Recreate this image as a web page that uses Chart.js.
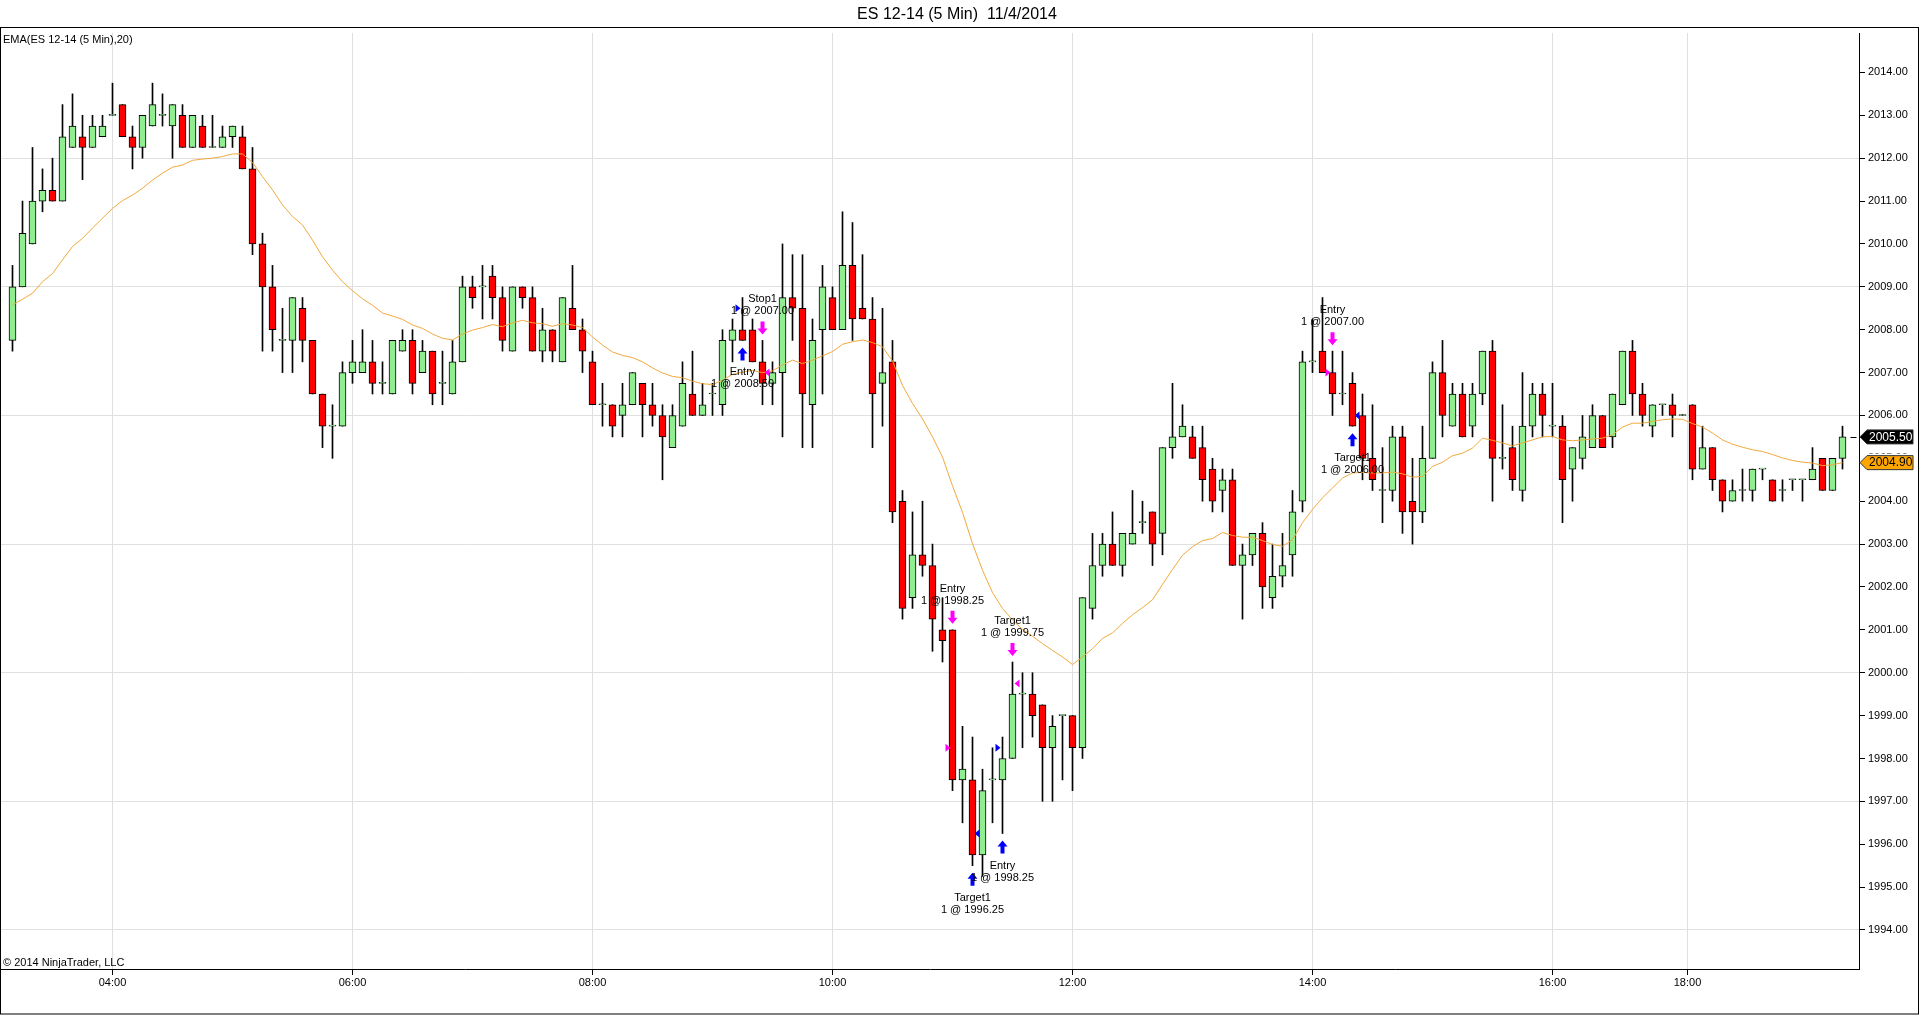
<!DOCTYPE html>
<html>
<head>
<meta charset="utf-8">
<title>ES 12-14 (5 Min) 11/4/2014</title>
<script src="https://cdn.jsdelivr.net/npm/chart.js@4.4.1/dist/chart.umd.min.js"></script>
<style>
    html, body { margin: 0; padding: 0; background: #ffffff; }
    canvas { display: block; }
</style>
</head>
<body>
<canvas id="esChart" width="1920" height="1015"></canvas>
<script>
// Bar data (5 min bars, 03:10 -> 19:20)
const opens = [
    2007.75, 2009.0, 2010.0, 2011.0, 2011.25, 2011.0, 2012.25, 2012.5, 2012.25, 2012.5,
    2013.0, 2013.25, 2012.5, 2012.25, 2012.75, 2013.0, 2012.75, 2013.0, 2012.25, 2012.75,
    2012.25, 2012.25, 2012.5, 2012.5, 2011.75, 2010.0, 2009.0, 2007.75, 2007.75, 2008.5,
    2007.75, 2006.5, 2005.75, 2005.75, 2007.0, 2007.0, 2007.25, 2006.75, 2006.5, 2007.5,
    2007.75, 2007.0, 2007.5, 2006.75, 2006.5, 2007.25, 2009.0, 2009.0, 2009.25, 2008.75,
    2007.5, 2009.0, 2008.75, 2007.5, 2008.0, 2007.25, 2008.5, 2008.0, 2007.25, 2006.25,
    2006.25, 2006.0, 2006.25, 2006.75, 2006.25, 2006.0, 2005.25, 2005.75, 2006.5, 2006.0,
    2006.5, 2006.25, 2007.75, 2008.0, 2008.0, 2007.25, 2006.75, 2007.0, 2008.75, 2008.5,
    2006.25, 2008.0, 2008.75, 2008.0, 2009.5, 2008.5, 2008.25, 2006.75, 2007.25, 2004.0,
    2001.75, 2002.75, 2002.5, 2001.0, 2001.0, 1997.5, 1997.5, 1995.75, 1997.5, 1997.5,
    1998.0, 1999.5, 1999.5, 1999.25, 1998.25, 1999.0, 1999.0, 1998.25, 2001.5, 2002.5,
    2003.0, 2002.5, 2003.0, 2003.5, 2003.75, 2003.25, 2005.25, 2005.5, 2005.5, 2005.25,
    2004.75, 2004.25, 2004.5, 2002.5, 2002.75, 2003.25, 2001.75, 2002.25, 2002.75, 2004.0,
    2007.25, 2007.5, 2007.0, 2006.5, 2006.75, 2006.0, 2005.0, 2004.25, 2004.25, 2005.5,
    2004.0, 2003.75, 2005.0, 2007.0, 2005.75, 2006.5, 2005.75, 2006.5, 2007.5, 2005.0,
    2005.25, 2004.25, 2005.75, 2006.5, 2005.75, 2005.75, 2004.75, 2005.0, 2005.25, 2006.0,
    2005.5, 2006.25, 2007.5, 2006.5, 2005.75, 2006.25, 2006.25, 2006.0, 2006.25, 2004.75,
    2005.25, 2004.5, 2004.0, 2004.25, 2004.25, 2004.75, 2004.5, 2004.25, 2004.5, 2004.5,
    2004.5, 2005.0, 2004.25, 2005.0
];
const highs = [
    2009.5, 2011.0, 2012.25, 2011.75, 2012.0, 2013.25, 2013.5, 2013.0, 2013.0, 2013.0,
    2013.75, 2013.25, 2012.75, 2013.0, 2013.75, 2013.5, 2013.25, 2013.25, 2013.0, 2013.0,
    2013.0, 2012.75, 2012.75, 2012.75, 2012.25, 2010.25, 2009.5, 2008.5, 2008.75, 2008.75,
    2007.75, 2006.5, 2006.25, 2007.25, 2007.75, 2008.0, 2007.75, 2007.25, 2007.75, 2008.0,
    2008.0, 2007.75, 2007.5, 2007.5, 2007.75, 2009.25, 2009.25, 2009.5, 2009.5, 2009.0,
    2009.0, 2009.0, 2009.0, 2008.5, 2008.0, 2008.75, 2009.5, 2008.25, 2007.5, 2006.75,
    2006.25, 2006.75, 2007.0, 2006.75, 2006.75, 2006.25, 2006.25, 2007.25, 2007.5, 2006.75,
    2006.75, 2008.0, 2008.25, 2008.75, 2008.25, 2007.75, 2007.25, 2010.0, 2009.75, 2009.75,
    2008.25, 2009.5, 2009.0, 2010.75, 2010.5, 2009.75, 2008.75, 2008.5, 2007.75, 2004.25,
    2003.75, 2004.0, 2003.0, 2001.75, 2001.0, 1998.75, 1998.5, 1997.75, 1998.25, 1998.5,
    2000.25, 2000.0, 2000.0, 1999.25, 1999.0, 1999.0, 1999.0, 2001.75, 2003.25, 2003.25,
    2003.75, 2003.25, 2004.25, 2004.0, 2003.75, 2005.25, 2006.75, 2006.25, 2005.75, 2005.75,
    2005.0, 2004.75, 2004.75, 2003.0, 2003.25, 2003.5, 2003.0, 2003.25, 2004.25, 2007.5,
    2008.25, 2008.75, 2007.5, 2007.5, 2007.0, 2006.5, 2006.25, 2005.25, 2005.75, 2005.75,
    2005.0, 2005.75, 2007.25, 2007.75, 2006.75, 2006.75, 2006.75, 2007.5, 2007.75, 2006.25,
    2005.75, 2007.0, 2006.75, 2006.75, 2006.75, 2006.0, 2005.25, 2006.0, 2006.25, 2006.0,
    2006.5, 2007.5, 2007.75, 2006.75, 2006.25, 2006.25, 2006.5, 2006.0, 2006.25, 2005.75,
    2005.25, 2004.5, 2004.5, 2004.75, 2004.75, 2004.75, 2004.5, 2004.5, 2004.5, 2004.5,
    2005.25, 2005.0, 2005.0, 2005.75
];
const lows = [
    2007.5, 2009.0, 2010.0, 2010.75, 2011.0, 2011.0, 2012.25, 2011.5, 2012.25, 2012.5,
    2013.0, 2012.5, 2011.75, 2012.0, 2012.75, 2012.75, 2012.0, 2012.25, 2012.25, 2012.25,
    2012.25, 2012.25, 2012.25, 2011.75, 2009.75, 2007.5, 2007.5, 2007.0, 2007.0, 2007.25,
    2006.5, 2005.25, 2005.0, 2005.75, 2006.75, 2007.0, 2006.5, 2006.5, 2006.5, 2007.5,
    2006.5, 2007.0, 2006.25, 2006.25, 2006.5, 2007.25, 2008.5, 2008.25, 2008.25, 2007.5,
    2007.5, 2008.5, 2007.5, 2007.25, 2007.25, 2007.25, 2008.0, 2007.0, 2006.25, 2005.75,
    2005.5, 2005.5, 2006.25, 2005.5, 2005.75, 2004.5, 2005.25, 2005.75, 2006.0, 2006.0,
    2006.0, 2006.0, 2007.25, 2007.75, 2007.25, 2006.25, 2006.25, 2005.5, 2007.75, 2005.25,
    2005.25, 2006.5, 2008.0, 2008.0, 2007.75, 2008.25, 2005.25, 2005.75, 2003.5, 2001.25,
    2001.5, 2002.25, 2000.5, 2000.25, 1997.25, 1996.5, 1995.5, 1995.25, 1996.5, 1996.25,
    1998.0, 1998.25, 1998.5, 1997.0, 1997.0, 1997.5, 1997.25, 1998.0, 2001.25, 2002.25,
    2002.5, 2002.25, 2003.0, 2003.25, 2002.5, 2002.75, 2005.0, 2005.5, 2005.0, 2004.0,
    2003.75, 2003.75, 2002.5, 2001.25, 2002.5, 2001.5, 2001.5, 2002.0, 2002.25, 2003.75,
    2007.0, 2007.0, 2006.0, 2006.25, 2005.75, 2004.5, 2004.25, 2003.5, 2004.0, 2003.25,
    2003.0, 2003.5, 2005.0, 2005.5, 2005.75, 2005.5, 2005.5, 2006.25, 2004.0, 2004.75,
    2004.25, 2004.0, 2005.5, 2005.5, 2005.5, 2003.5, 2004.0, 2004.75, 2005.25, 2005.25,
    2005.25, 2006.25, 2006.0, 2005.75, 2005.5, 2006.0, 2005.5, 2006.0, 2004.5, 2004.75,
    2004.25, 2003.75, 2004.0, 2004.0, 2004.0, 2004.5, 2004.0, 2004.0, 2004.25, 2004.0,
    2004.5, 2004.25, 2004.25, 2004.75
];
const closes = [
    2009.0, 2010.25, 2011.0, 2011.25, 2011.0, 2012.5, 2012.75, 2012.25, 2012.75, 2012.75,
    2013.0, 2012.5, 2012.25, 2013.0, 2013.25, 2013.0, 2013.25, 2012.25, 2013.0, 2012.25,
    2012.25, 2012.5, 2012.75, 2011.75, 2010.0, 2009.0, 2008.0, 2007.75, 2008.75, 2007.75,
    2006.5, 2005.75, 2005.75, 2007.0, 2007.25, 2007.25, 2006.75, 2006.75, 2007.75, 2007.75,
    2006.75, 2007.5, 2006.5, 2006.75, 2007.25, 2009.0, 2008.75, 2009.0, 2008.75, 2007.75,
    2009.0, 2008.75, 2007.5, 2008.0, 2007.5, 2008.75, 2008.0, 2007.5, 2006.25, 2006.25,
    2005.75, 2006.25, 2007.0, 2006.25, 2006.0, 2005.5, 2006.0, 2006.75, 2006.0, 2006.25,
    2006.5, 2007.75, 2008.0, 2007.75, 2007.25, 2006.75, 2007.0, 2008.75, 2008.5, 2006.5,
    2007.75, 2009.0, 2008.0, 2009.5, 2008.25, 2008.25, 2006.5, 2007.0, 2003.75, 2001.5,
    2002.75, 2002.5, 2001.25, 2000.75, 1997.5, 1997.75, 1995.75, 1997.25, 1997.5, 1998.0,
    1999.5, 1999.5, 1999.0, 1998.25, 1998.75, 1999.0, 1998.25, 2001.75, 2002.5, 2003.0,
    2002.5, 2003.25, 2003.25, 2003.5, 2003.0, 2005.25, 2005.5, 2005.75, 2005.0, 2004.5,
    2004.0, 2004.5, 2002.5, 2002.75, 2003.25, 2002.0, 2002.25, 2002.5, 2003.75, 2007.25,
    2007.25, 2007.0, 2006.5, 2006.5, 2005.75, 2005.0, 2004.5, 2004.25, 2005.5, 2003.75,
    2003.75, 2005.0, 2007.0, 2006.0, 2006.5, 2005.5, 2006.5, 2007.5, 2005.0, 2005.0,
    2004.5, 2005.75, 2006.5, 2006.0, 2005.75, 2004.5, 2005.25, 2005.5, 2006.0, 2005.25,
    2006.5, 2007.5, 2006.5, 2006.0, 2006.25, 2006.25, 2006.0, 2006.0, 2004.75, 2005.25,
    2004.5, 2004.0, 2004.25, 2004.25, 2004.75, 2004.75, 2004.0, 2004.25, 2004.5, 2004.5,
    2004.75, 2004.25, 2005.0, 2005.5
];
// EMA(20) as drawn on the chart
const emaValues = [
    2008.58, 2008.71, 2008.85, 2009.12, 2009.31, 2009.63, 2009.94, 2010.13, 2010.37, 2010.60,
    2010.83, 2011.01, 2011.14, 2011.30, 2011.49, 2011.65, 2011.79, 2011.84, 2011.95, 2011.98,
    2012.00, 2012.04, 2012.10, 2012.10, 2011.90, 2011.57, 2011.26, 2010.91, 2010.64, 2010.44,
    2010.09, 2009.70, 2009.39, 2009.12, 2008.91, 2008.72, 2008.57, 2008.39, 2008.32, 2008.24,
    2008.11, 2008.03, 2007.90, 2007.80, 2007.76, 2007.90, 2007.99, 2008.05, 2008.12, 2008.07,
    2008.16, 2008.22, 2008.16, 2008.14, 2008.08, 2008.14, 2008.11, 2008.05, 2007.83, 2007.64,
    2007.48, 2007.40, 2007.35, 2007.25, 2007.11, 2006.99, 2006.91, 2006.88, 2006.80, 2006.74,
    2006.72, 2006.82, 2006.96, 2007.01, 2007.05, 2007.00, 2007.04, 2007.18, 2007.29, 2007.21,
    2007.29, 2007.39, 2007.49, 2007.66, 2007.72, 2007.76, 2007.70, 2007.60, 2007.27, 2006.70,
    2006.28, 2005.92, 2005.50, 2005.03, 2004.36, 2003.74, 2003.01, 2002.39, 2001.87, 2001.50,
    2001.23, 2001.01, 2000.85, 2000.68, 2000.52, 2000.37, 2000.19, 2000.37, 2000.56, 2000.80,
    2000.93, 2001.15, 2001.35, 2001.52, 2001.70, 2002.06, 2002.41, 2002.74, 2002.94, 2003.08,
    2003.13, 2003.27, 2003.20, 2003.16, 2003.16, 2003.08, 2002.99, 2002.95, 2003.10, 2003.50,
    2003.81, 2004.08, 2004.31, 2004.54, 2004.66, 2004.67, 2004.66, 2004.66, 2004.68, 2004.64,
    2004.56, 2004.58, 2004.81, 2004.91, 2005.06, 2005.12, 2005.24, 2005.47, 2005.42, 2005.36,
    2005.29, 2005.36, 2005.43, 2005.50, 2005.51, 2005.43, 2005.41, 2005.43, 2005.45, 2005.47,
    2005.55, 2005.73, 2005.82, 2005.82, 2005.86, 2005.90, 2005.92, 2005.91, 2005.81, 2005.73,
    2005.59, 2005.43, 2005.33, 2005.26, 2005.20, 2005.16, 2005.09, 2005.01, 2004.95, 2004.91,
    2004.89, 2004.83, 2004.85, 2004.90
];

// time axis: bar positions of the hour marks (18:00 falls in the session break)
const timeTickBars = [10, 34, 58, 82, 106, 130, 154, 167.5];
const timeTickLabels = ['04:00', '06:00', '08:00', '10:00', '12:00', '14:00', '16:00', '18:00'];
const priceTicks = [1994, 1995, 1996, 1997, 1998, 1999, 2000, 2001, 2002, 2003, 2004,
    2005, 2006, 2007, 2008, 2009, 2010, 2011, 2012, 2013, 2014];

// executions
const tradeBars = [73, 75, 94, 96, 99, 100, 132, 134];
const tradePrices = [2008.50, 2007.00, 1998.25, 1996.25, 1998.25, 1999.75, 2007.00, 2006.00];
const tradeSides = ['buy', 'sell', 'sell', 'buy', 'buy', 'sell', 'sell', 'buy'];
const tradeNames = ['Entry', 'Stop1', 'Entry', 'Target1', 'Entry', 'Target1', 'Entry', 'Target1'];

const FONT = 'Arial, "Liberation Sans", sans-serif';
const GREEN = '#90EE90';
const RED = '#FF0000';
const EMA_COLOR = '#F2A93B';

const wickData = highs.map((h, i) => ({ x: i, y: [lows[i], h] }));
const bodyData = opens.map((o, i) => ({ x: i, y: [o, closes[i]] }));
const bodyColors = opens.map((o, i) => closes[i] >= o ? GREEN : RED);
const emaData = emaValues.map((v, i) => ({ x: i, y: v }));

// arrows, execution triangles, labels, frame and price tags
const ninjaPlugin = {
    id: 'ninjaDecor',
    beforeDraw(chart) {
        const ctx = chart.ctx;
        ctx.save();
        ctx.fillStyle = '#ffffff';
        ctx.fillRect(0, 0, chart.width, chart.height);
        ctx.restore();
    },
    afterDraw(chart) {
        const ctx = chart.ctx;
        const xs = chart.scales.x;
        const ys = chart.scales.y;
        const area = chart.chartArea;
        ctx.save();

        // frame
        ctx.strokeStyle = '#000';
        ctx.lineWidth = 1;
        ctx.strokeRect(0.5, 27.5, chart.width - 2, chart.height - 28.5);

        // title
        ctx.fillStyle = '#000';
        ctx.font = '16px ' + FONT;
        ctx.textAlign = 'center';
        ctx.textBaseline = 'middle';
        ctx.fillText('ES 12-14 (5 Min)  11/4/2014', 957, 15);

        ctx.font = '11px ' + FONT;
        ctx.textAlign = 'left';
        ctx.fillText('EMA(ES 12-14 (5 Min),20)', 3, 40);
        ctx.fillText('\u00A9 2014 NinjaTrader, LLC', 3, area.bottom - 6);

        // executions
        tradeBars.forEach((b, k) => {
            const cx = xs.getPixelForValue(b);
            const buy = tradeSides[k] === 'buy';
            const entry = tradeNames[k] === 'Entry';
            const col = buy ? '#0000FF' : '#FF00FF';
            const py = ys.getPixelForValue(tradePrices[k]);

            // small triangle at the fill price
            ctx.fillStyle = col;
            ctx.beginPath();
            if (entry) {
                ctx.moveTo(cx - 7, py - 4);
                ctx.lineTo(cx - 2, py);
                ctx.lineTo(cx - 7, py + 4);
            } else {
                ctx.moveTo(cx + 7, py - 4);
                ctx.lineTo(cx + 2, py);
                ctx.lineTo(cx + 7, py + 4);
            }
            ctx.closePath();
            ctx.fill();

            // big arrow
            let top, bottom;
            if (buy) {
                top = ys.getPixelForValue(lows[b]) + 7;
                bottom = top + 13;
                ctx.beginPath();
                ctx.moveTo(cx, top);
                ctx.lineTo(cx + 5, top + 6);
                ctx.lineTo(cx + 2, top + 6);
                ctx.lineTo(cx + 2, bottom);
                ctx.lineTo(cx - 2, bottom);
                ctx.lineTo(cx - 2, top + 6);
                ctx.lineTo(cx - 5, top + 6);
                ctx.closePath();
                ctx.fill();
            } else {
                bottom = ys.getPixelForValue(highs[b]) - 6;
                top = bottom - 13;
                ctx.beginPath();
                ctx.moveTo(cx, bottom);
                ctx.lineTo(cx + 5, bottom - 6);
                ctx.lineTo(cx + 2, bottom - 6);
                ctx.lineTo(cx + 2, top);
                ctx.lineTo(cx - 2, top);
                ctx.lineTo(cx - 2, bottom - 6);
                ctx.lineTo(cx - 5, bottom - 6);
                ctx.closePath();
                ctx.fill();
            }

            // label
            ctx.fillStyle = '#000';
            ctx.font = '11px ' + FONT;
            ctx.textAlign = 'center';
            ctx.textBaseline = 'middle';
            const line2 = '1 @ ' + tradePrices[k].toFixed(2);
            if (buy) {
                ctx.fillText(tradeNames[k], cx, bottom + 12);
                ctx.fillText(line2, cx, bottom + 24);
            } else {
                ctx.fillText(tradeNames[k], cx, top - 22);
                ctx.fillText(line2, cx, top - 10);
            }
        });

        // last price dash and axis tags
        const last = closes.length - 1;
        const lx = xs.getPixelForValue(last);
        const lastY = Math.round(ys.getPixelForValue(closes[last])) + 0.5;
        ctx.strokeStyle = '#000';
        ctx.beginPath();
        ctx.moveTo(lx + 8, lastY);
        ctx.lineTo(lx + 14, lastY);
        ctx.stroke();

        const drawTag = (value, fill, textCol) => {
            const y = ys.getPixelForValue(value);
            const x0 = area.right + 1;
            // hide the axis label the tag sits on
            ctx.fillStyle = '#ffffff';
            ctx.fillRect(x0, y - 9, chart.width - x0 - 2, 18);
            ctx.beginPath();
            ctx.moveTo(x0, y);
            ctx.lineTo(x0 + 7, y - 7);
            ctx.lineTo(x0 + 53, y - 7);
            ctx.lineTo(x0 + 53, y + 7);
            ctx.lineTo(x0 + 7, y + 7);
            ctx.closePath();
            ctx.fillStyle = fill;
            ctx.fill();
            ctx.strokeStyle = '#333';
            ctx.stroke();
            ctx.fillStyle = textCol;
            ctx.font = '12px ' + FONT;
            ctx.textAlign = 'left';
            ctx.textBaseline = 'middle';
            ctx.fillText(value.toFixed(2), x0 + 9, y + 0.5);
        };
        drawTag(closes[last], '#000000', '#ffffff');
        drawTag(emaValues[last], '#FFA500', '#000000');

        ctx.restore();
    }
};

const ctx = document.getElementById('esChart').getContext('2d');
new Chart(ctx, {
    type: 'bar',
    data: {
        datasets: [
            {
                type: 'line',
                label: 'EMA',
                data: emaData,
                borderColor: EMA_COLOR,
                borderWidth: 1,
                pointRadius: 0,
                tension: 0,
                order: 0
            },
            {
                label: 'Body',
                data: bodyData,
                backgroundColor: bodyColors,
                borderColor: '#000000',
                borderWidth: 1,
                borderSkipped: false,
                barThickness: 7,
                minBarLength: 1,
                grouped: false,
                order: 1
            },
            {
                label: 'Wick',
                data: wickData,
                backgroundColor: '#000000',
                borderWidth: 0,
                barThickness: 1,
                minBarLength: 1,
                grouped: false,
                order: 2
            }
        ]
    },
    options: {
        responsive: false,
        animation: false,
        devicePixelRatio: 1,
        layout: { padding: { top: 33, left: 1, right: 0, bottom: 0 } },
        plugins: {
            legend: { display: false },
            tooltip: { enabled: false },
            title: { display: false }
        },
        scales: {
            x: {
                type: 'linear',
                min: -1.15,
                max: 184.65,
                offset: false,
                afterBuildTicks: (scale) => {
                    scale.ticks = timeTickBars.map(v => ({ value: v }));
                },
                afterFit: (scale) => { scale.height = 46; },
                grid: {
                    color: '#e0e0e0',
                    tickColor: '#000000',
                    tickLength: 6,
                    offset: false
                },
                border: { display: true, color: '#000000' },
                ticks: {
                    autoSkip: false,
                    maxRotation: 0,
                    padding: 1,
                    color: '#000000',
                    font: { family: FONT, size: 11 },
                    callback: (value) => {
                        const k = timeTickBars.indexOf(value);
                        return k >= 0 ? timeTickLabels[k] : '';
                    }
                }
            },
            y: {
                type: 'linear',
                position: 'right',
                min: 1993.09,
                max: 2014.92,
                afterBuildTicks: (scale) => {
                    scale.ticks = priceTicks.map(v => ({ value: v }));
                },
                afterFit: (scale) => { scale.width = 61; },
                grid: {
                    color: (c) => (c.tick && (c.tick.value - 1994) % 3 === 0) ? '#e0e0e0' : 'rgba(0,0,0,0)',
                    tickColor: '#000000',
                    tickLength: 6
                },
                border: { display: true, color: '#000000' },
                ticks: {
                    padding: 3,
                    color: '#000000',
                    font: { family: FONT, size: 11 },
                    callback: (value) => Number(value).toFixed(2)
                }
            }
        }
    },
    plugins: [ninjaPlugin]
});
</script>
</body>
</html>
